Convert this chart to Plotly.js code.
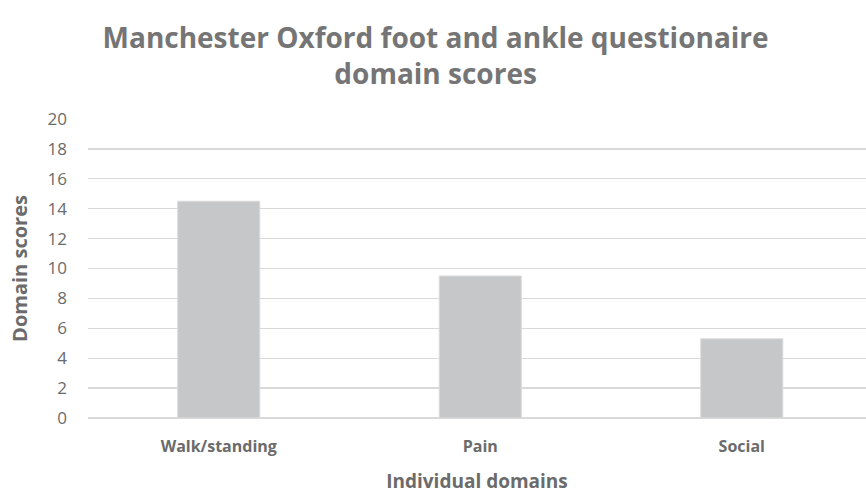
<!DOCTYPE html>
<html><head><meta charset="utf-8">
<script src="https://cdn.plot.ly/plotly-3.0.1.min.js"></script>
<style>html,body{margin:0;padding:0;background:#fff}#c{width:866px;height:494px}</style>
</head><body><div id="c"></div>
<script>
const categories = ["Walk/standing", "Pain", "Social"];
const scores = [14.5, 9.5, 5.3];
const yTicks = [0, 2, 4, 6, 8, 10, 12, 14, 16, 18, 20];

const font = "Open Sans, Noto Sans, sans-serif";
const txt = "#6B6B6B";
Plotly.newPlot("c", [{
  type: "bar",
  x: categories,
  y: scores,
  width: 0.314,
  marker: {color: "#C6C7C9", line: {color: "#DCDCDC", width: 1}},
  hoverinfo: "x+y"
}], {
  width: 866, height: 494,
  margin: {l: 88, r: 0, t: 119, b: 76},
  paper_bgcolor: "#fff", plot_bgcolor: "#fff",
  font: {family: font, color: txt},
  title: {
    text: "<b>Manchester Oxford foot and ankle questionaire<br>domain scores</b>",
    font: {size: 28, color: "#757575", family: font},
    x: 0.503, xanchor: "center", y: 0.903, yanchor: "top"
  },
  xaxis: {
    range: [-0.5, 2.475],
    tickfont: {size: 16, color: txt, family: font},
    tickprefix: "<b>", ticksuffix: "</b>",
    showline: false, showgrid: false, ticks: "",
    ticklabelstandoff: 17,
    title: {text: "<b>Individual domains</b>", font: {size: 19, color: txt, family: font}, standoff: 25}
  },
  yaxis: {
    range: [0, 20], tickvals: yTicks,
    tickfont: {size: 17, color: txt, family: font},
    gridcolor: "#D9D9D9", gridwidth: 1.3, zeroline: true, zerolinecolor: "#D9D9D9", zerolinewidth: 1.3,
    showline: false, ticks: "", ticklen: 0,
    ticklabelstandoff: 20,
    title: {text: "<b>Domain scores</b>", font: {size: 20, color: txt, family: font}, standoff: 14}
  },
  showlegend: false
}, {displayModeBar: false, staticPlot: true});
</script></body></html>
